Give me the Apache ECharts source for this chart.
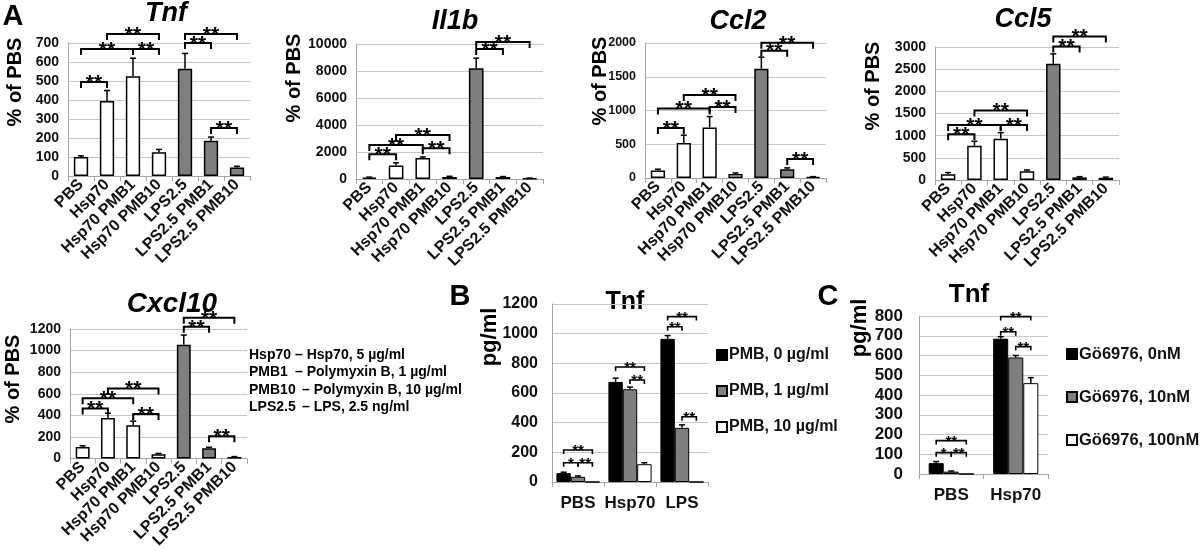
<!DOCTYPE html>
<html>
<head>
<meta charset="utf-8">
<script src="https://cdn.jsdelivr.net/npm/echarts@6/dist/echarts.min.js"></script>
<style>
  html, body { margin: 0; padding: 0; background: #fff; }
  #chart { width: 1200px; height: 551px; }
</style>
</head>
<body>
<div id="chart"></div>
<script>
// ---- data: panel A (% of PBS) ----
const conditions = ['PBS', 'Hsp70', 'Hsp70 PMB1', 'Hsp70 PMB10', 'LPS2.5', 'LPS2.5 PMB1', 'LPS2.5 PMB10'];
const lpsGroup = [false, false, false, false, true, true, true];

const tnfValues = [100, 395, 525, 125, 565, 185, 45];
const tnfErrors = [6, 55, 95, 15, 80, 20, 6];
const tnfBrackets = [[0, 1, 495, '**'], [0, 2, 668, '**'], [2, 3, 668, '**'], [1, 3, 747, '**'], [4, 5, 700, '**'], [4, 6, 747, '**'], [5, 6, 253, '**']];

const il1bValues = [100, 1000, 1550, 150, 8200, 150, 50];
const il1bErrors = [40, 200, 80, 50, 750, 30, 20];
const il1bBrackets = [[0, 1, 1830, '**'], [0, 2, 2520, '**'], [2, 3, 2270, '**'], [1, 3, 3260, '**'], [4, 5, 9630, '**'], [4, 6, 10150, '**']];

const ccl2Values = [110, 520, 750, 60, 1620, 130, 15];
const ccl2Errors = [20, 115, 160, 15, 170, 20, 5];
const ccl2Brackets = [[0, 1, 740, '**'], [0, 2, 1030, '**'], [2, 3, 1052, '**'], [1, 3, 1230, '**'], [4, 5, 1886, '**'], [4, 6, 2004, '**'], [5, 6, 280, '**']];

const ccl5Values = [128, 775, 933, 195, 2620, 60, 50];
const ccl5Errors = [40, 98, 135, 30, 225, 15, 15];
const ccl5Brackets = [[0, 1, 1030, '**'], [0, 2, 1240, '**'], [2, 3, 1240, '**'], [1, 3, 1565, '**'], [4, 5, 3010, '**'], [4, 6, 3235, '**']];

const cxcl10Values = [107, 376, 308, 40, 1055, 95, 15];
const cxcl10Errors = [12, 44, 39, 8, 89, 10, 4];
const cxcl10Brackets = [[0, 1, 465, '**'], [0, 2, 560, '**'], [2, 3, 412, '**'], [1, 3, 649, '**'], [4, 5, 1220, '**'], [4, 6, 1304, '**'], [5, 6, 207, '**']];

// ---- data: panel B (Tnf pg/ml, PMB) ----
const bCategories = ['PBS', 'Hsp70', 'LPS'];
const bSeriesNames = ['PMB, 0 µg/ml', 'PMB, 1 µg/ml', 'PMB, 10 µg/ml'];
const bValues = [[60, 675, 965], [35, 625, 365], [0, 120, 0]];
const bErrors = [[6, 25, 22], [6, 15, 20], [0, 10, 0]];
// [category, series a, series b, y, stars]
const bBrackets = [[0, 0, 2, 216, '**'], [0, 0, 1, 130, '*'], [0, 1, 2, 130, '**'], [1, 0, 2, 775, '**'], [1, 1, 2, 688, '**'], [2, 0, 1, 1047, '**'], [2, 0, 2, 1115, '**'], [2, 1, 2, 440, '**']];

// ---- data: panel C (Tnf pg/ml, Gö6976) ----
const cCategories = ['PBS', 'Hsp70'];
const cSeriesNames = ['Gö6976, 0nM', 'Gö6976, 10nM', 'Gö6976, 100nM'];
const cValues = [[55, 685], [12, 590], [0, 460]];
const cErrors = [[8, 10], [3, 10], [0, 28]];
const cBrackets = [[0, 0, 2, 169, '**'], [0, 0, 1, 108, '*'], [0, 1, 2, 108, '**'], [1, 0, 1, 720, '**'], [1, 0, 2, 797, '**'], [1, 1, 2, 645, '**']];

const abbreviations = [
  ['Hsp70', '– Hsp70, 5 µg/ml'],
  ['PMB1', '– Polymyxin B, 1 µg/ml'],
  ['PMB10', '– Polymyxin B, 10 µg/ml'],
  ['LPS2.5', '– LPS, 2.5 ng/ml']
];

// ---- layout ----
const FONT = '"Liberation Sans", Arial, Helvetica, sans-serif';
const GRAY = '#7f7f7f';
const AXIS = '#a6a6a6';
const SPLIT = '#c6c6c6';

const panelsA = [
  { values: tnfValues, errors: tnfErrors, brackets: tnfBrackets, max: 700, interval: 100, tick: 14, grid: { left: 68, top: 43, width: 182, height: 133 } },
  { values: il1bValues, errors: il1bErrors, brackets: il1bBrackets, max: 10000, interval: 2000, tick: 14, grid: { left: 356, top: 44, width: 187, height: 135 } },
  { values: ccl2Values, errors: ccl2Errors, brackets: ccl2Brackets, max: 2000, interval: 500, tick: 12.5, grid: { left: 645, top: 43, width: 181, height: 135 } },
  { values: ccl5Values, errors: ccl5Errors, brackets: ccl5Brackets, max: 3000, interval: 500, tick: 14, grid: { left: 935, top: 47, width: 184, height: 133 } },
  { values: cxcl10Values, errors: cxcl10Errors, brackets: cxcl10Brackets, max: 1200, interval: 200, tick: 14, grid: { left: 70, top: 329, width: 177, height: 135 } }
];

const panelsG = [
  { cats: bCategories, names: bSeriesNames, values: bValues, errors: bErrors, brackets: bBrackets, max: 1200, interval: 200, gap: 0.17,
    grid: { left: 552, top: 304, width: 156, height: 178 }, labelSize: 16, catSize: 17, labelMargin: 14, legend: { left: 711, top: 341, itemGap: 18, fontSize: 16 } },
  { cats: cCategories, names: cSeriesNames, values: cValues, errors: cErrors, brackets: cBrackets, max: 800, interval: 100, gap: 0.30,
    grid: { left: 919, top: 316, width: 129, height: 158 }, labelSize: 17, catSize: 17, labelMargin: 16, legend: { left: 1061, top: 340, itemGap: 25, fontSize: 16.5 } }
];
const barColors = ['#000000', GRAY, '#ffffff'];

const grids = [], xAxes = [], yAxes = [], series = [], legends = [];

function errorBar(offsetFn) {
  return function (params, api) {
    const cat = api.value(0), v = api.value(1), e = api.value(2);
    const off = offsetFn ? offsetFn(api, api.value(3)) : 0;
    const p0 = api.coord([cat, v]);
    const p1 = api.coord([cat, v + e]);
    const x = p0[0] + off;
    return {
      type: 'group', children: [
        { type: 'line', shape: { x1: x, y1: p0[1], x2: x, y2: p1[1] }, style: { stroke: '#000', lineWidth: 1.5 } },
        { type: 'line', shape: { x1: x - 3, y1: p1[1], x2: x + 3, y2: p1[1] }, style: { stroke: '#000', lineWidth: 1.5 } }
      ]
    };
  };
}

function bracket(list, o) {
  return function (params, api) {
    const row = list[params.dataIndex];
    let xa, xb, yv;
    if (o.grouped) {
      const c = api.coord([row[0], row[3]]);
      const bw = api.size([1, 0])[0] * (1 - o.gap) / 3;
      xa = c[0] + (row[1] - 1) * bw;
      xb = c[0] + (row[2] - 1) * bw;
      yv = c[1];
    } else {
      const a = api.coord([row[0], row[2]]);
      const b = api.coord([row[1], row[2]]);
      xa = a[0]; xb = b[0]; yv = a[1];
    }
    return {
      type: 'group', children: [
        { type: 'polyline', shape: { points: [[xa, yv + o.drop], [xa, yv], [xb, yv], [xb, yv + o.drop]] }, style: { stroke: '#000', lineWidth: o.lw, fill: null } },
        { type: 'text', x: (xa + xb) / 2, y: yv + o.dy, style: { text: row[row.length - 1], font: 'bold ' + o.fs + 'px ' + FONT, fill: '#000', align: 'center', verticalAlign: 'middle' } }
      ]
    };
  };
}

panelsA.forEach((p, k) => {
  grids.push(p.grid);
  xAxes.push({
    type: 'category', gridIndex: k, data: conditions,
    axisLine: { lineStyle: { color: AXIS, width: 1 } },
    axisTick: { show: true, length: 5, lineStyle: { color: AXIS } },
    axisLabel: { interval: 0, rotate: 45, margin: 6, color: '#111', fontWeight: 'bold', fontSize: 16, fontFamily: FONT }
  });
  yAxes.push({
    type: 'value', gridIndex: k, min: 0, max: p.max, interval: p.interval,
    axisLine: { show: true, lineStyle: { color: AXIS } },
    axisTick: { show: false },
    splitLine: { lineStyle: { color: SPLIT } },
    axisLabel: { margin: 9, color: '#111', fontWeight: 'bold', fontSize: p.tick, fontFamily: FONT, formatter: v => String(v) }
  });
  series.push({
    type: 'bar', xAxisIndex: k, yAxisIndex: k, barWidth: '55%',
    data: p.values.map((v, i) => ({ value: v, itemStyle: { color: lpsGroup[i] ? GRAY : '#fff' } })),
    itemStyle: { borderColor: '#000', borderWidth: 1.5 },
    emphasis: { disabled: true }
  });
  series.push({
    type: 'custom', xAxisIndex: k, yAxisIndex: k, z: 5,
    renderItem: errorBar(null), encode: { x: 0, y: 1 },
    data: p.values.map((v, i) => [i, v, p.errors[i]])
  });
  series.push({
    type: 'custom', xAxisIndex: k, yAxisIndex: k, z: 6, clip: false,
    renderItem: bracket(p.brackets, { drop: 6, lw: 2, fs: 21, dy: 1 }), encode: { x: 0, y: 2 },
    data: p.brackets.map(b => [b[0], b[1], b[2]])
  });
});

panelsG.forEach((p, j) => {
  const k = panelsA.length + j;
  grids.push(p.grid);
  xAxes.push({
    type: 'category', gridIndex: k, data: p.cats,
    axisLine: { lineStyle: { color: AXIS } },
    axisTick: { show: true, length: 5, lineStyle: { color: AXIS } },
    axisLabel: { interval: 0, margin: 13, color: '#111', fontWeight: 'bold', fontSize: p.catSize, fontFamily: FONT }
  });
  yAxes.push({
    type: 'value', gridIndex: k, min: 0, max: p.max, interval: p.interval,
    axisLine: { show: true, lineStyle: { color: AXIS } },
    axisTick: { show: false },
    splitLine: { lineStyle: { color: SPLIT } },
    axisLabel: { margin: p.labelMargin, color: '#111', fontWeight: 'bold', fontSize: p.labelSize, fontFamily: FONT, formatter: v => String(v) }
  });
  p.names.forEach((name, s) => {
    series.push({
      type: 'bar', name: name, xAxisIndex: k, yAxisIndex: k,
      barGap: '0%', barCategoryGap: (p.gap * 100) + '%',
      data: p.values[s],
      itemStyle: { color: barColors[s], borderColor: '#000', borderWidth: 1 },
      emphasis: { disabled: true }
    });
  });
  const offsetFn = (api, s) => (s - 1) * api.size([1, 0])[0] * (1 - p.gap) / 3;
  const errData = [];
  p.values.forEach((arr, s) => arr.forEach((v, c) => { if (p.errors[s][c] > 0) errData.push([c, v, p.errors[s][c], s]); }));
  series.push({
    type: 'custom', xAxisIndex: k, yAxisIndex: k, z: 5,
    renderItem: errorBar(offsetFn), encode: { x: 0, y: 1 }, data: errData
  });
  series.push({
    type: 'custom', xAxisIndex: k, yAxisIndex: k, z: 6, clip: false,
    renderItem: bracket(p.brackets, { grouped: true, gap: p.gap, drop: 4, lw: 1.6, fs: 15, dy: 1 }), encode: { x: 0, y: 3 },
    data: p.brackets.map(b => [b[0], b[1], b[2], b[3]])
  });
  legends.push({
    data: p.names, orient: 'vertical', left: p.legend.left, top: p.legend.top,
    itemWidth: 10, itemHeight: 10, itemGap: p.legend.itemGap, icon: 'rect',
    textStyle: { color: '#111', fontWeight: 'bold', fontSize: p.legend.fontSize, fontFamily: FONT, lineHeight: 18, padding: [0, 0, 0, -3] },
    selectedMode: false
  });
});

// ---- text decorations ----
function txt(x, y, text, size, opts) {
  opts = opts || {};
  return {
    type: 'text', x: x, y: y, rotation: opts.rot || 0,
    style: {
      text: text, fill: '#000', align: opts.align || 'center', verticalAlign: 'middle',
      font: (opts.italic ? 'italic ' : '') + 'bold ' + size + 'px ' + FONT
    }
  };
}
const R = Math.PI / 2;
const graphics = [
  txt(13, 17, 'A', 29), txt(460, 297, 'B', 29), txt(828, 297, 'C', 29),
  txt(166, 14, 'Tnf', 27, { italic: true }),
  txt(455, 22, 'Il1b', 27, { italic: true }),
  txt(738, 22, 'Ccl2', 27, { italic: true }),
  txt(1023, 20, 'Ccl5', 27, { italic: true }),
  txt(172, 304, 'Cxcl10', 28, { italic: true }),
  txt(625, 302, 'Tnf', 25), txt(969, 295, 'Tnf', 26),
  txt(15, 82, '% of PBS', 20, { rot: R }),
  txt(294, 78, '% of PBS', 20, { rot: R }),
  txt(600, 81, '% of PBS', 20, { rot: R }),
  txt(873, 86, '% of PBS', 20, { rot: R }),
  txt(13, 379, '% of PBS', 20, { rot: R }),
  txt(490, 337, 'pg/ml', 22, { rot: R }),
  txt(860, 328, 'pg/ml', 22, { rot: R })
];
const abbrX = [295, 295, 302, 302];
abbreviations.forEach((a, i) => {
  const y = 355 + i * 17.5;
  graphics.push(txt(249, y, a[0], 14, { align: 'left' }));
  graphics.push(txt(abbrX[i], y, a[1], 14, { align: 'left' }));
});

const chart = echarts.init(document.getElementById('chart'));
chart.setOption({
  animation: false,
  backgroundColor: '#fff',
  grid: grids,
  xAxis: xAxes,
  yAxis: yAxes,
  legend: legends,
  series: series,
  graphic: graphics
});
</script>
</body>
</html>
